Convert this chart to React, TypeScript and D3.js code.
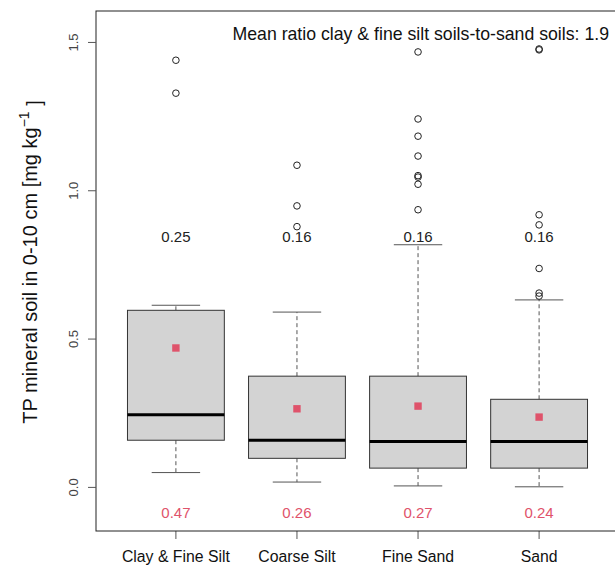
import React, { useEffect } from 'react';
import * as d3 from 'd3';

// soil texture classes
const classes = ['Clay & Fine Silt', 'Coarse Silt', 'Fine Sand', 'Sand'];

// box statistics (mg/kg)
const lowerWhisker = [0.05, 0.018, 0.005, 0.002];
const q1 = [0.159, 0.098, 0.065, 0.065];
const medians = [0.245, 0.159, 0.155, 0.155];
const q3 = [0.597, 0.375, 0.375, 0.297];
const upperWhisker = [0.614, 0.591, 0.818, 0.632];
const means = [0.47, 0.265, 0.274, 0.237];

const outliers = [
  [1.44, 1.329],
  [1.086, 0.949, 0.879],
  [1.468, 1.242, 1.184, 1.117, 1.051, 1.046, 1.022, 0.936],
  [1.478, 1.475, 0.919, 0.885, 0.738, 0.655, 0.645],
];

// labels printed in the plot
const medianLabels = ['0.25', '0.16', '0.16', '0.16'];
const meanLabels = ['0.47', '0.26', '0.27', '0.24'];
const yTicks = [0, 0.5, 1.0, 1.5];
const title = 'Mean ratio clay & fine silt soils-to-sand soils: 1.9';

const W = 615;
const H = 567;
const plot = { left: 96, top: 11, bottom: 531, right: 619 };
const pink = '#DF536B';
const font = 'Liberation Sans, Arial, sans-serif';

const App = () => {
  useEffect(() => {
    document.body.style.margin = '0';
  }, []);

  const x = d3.scaleLinear().domain([0.34, 4.66]).range([plot.left, plot.right]);
  const y = d3.scaleLinear().domain([-0.147, 1.606]).range([plot.bottom, plot.top]);
  const bw = x(1.4) - x(0.6);
  const cap = bw / 2;

  return (
    <svg width={W} height={H} style={{ display: 'block', fontFamily: font }}>
      <rect width={W} height={H} fill="#fff" />

      {classes.map((c, i) => {
        const cx = x(i + 1);
        return (
          <g key={c}>
            {/* whiskers */}
            <line x1={cx} x2={cx} y1={y(q3[i])} y2={y(upperWhisker[i])} stroke="#555" strokeDasharray="4,3" />
            <line x1={cx} x2={cx} y1={y(q1[i])} y2={y(lowerWhisker[i])} stroke="#555" strokeDasharray="4,3" />
            <line x1={cx - cap / 2} x2={cx + cap / 2} y1={y(upperWhisker[i])} y2={y(upperWhisker[i])} stroke="#555" />
            <line x1={cx - cap / 2} x2={cx + cap / 2} y1={y(lowerWhisker[i])} y2={y(lowerWhisker[i])} stroke="#555" />
            <rect
              x={cx - bw / 2}
              y={y(q3[i])}
              width={bw}
              height={y(q1[i]) - y(q3[i])}
              fill="#d3d3d3"
              stroke="#333"
            />
            <line x1={cx - bw / 2} x2={cx + bw / 2} y1={y(medians[i])} y2={y(medians[i])} stroke="#000" strokeWidth={3} />
            {outliers[i].map((v, j) => (
              <circle key={j} cx={cx} cy={y(v)} r={3.3} fill="none" stroke="#222" strokeWidth={1} />
            ))}
            <rect x={cx - 3.7} y={y(means[i]) - 3.7} width={7.4} height={7.4} fill={pink} />
            <text x={cx} y={y(0.845)} dy="0.35em" textAnchor="middle" fontSize={15} fill="#222">
              {medianLabels[i]}
            </text>
            <text x={cx} y={y(-0.087)} dy="0.35em" textAnchor="middle" fontSize={15} fill={pink}>
              {meanLabels[i]}
            </text>
            <line x1={cx} x2={cx} y1={plot.bottom} y2={plot.bottom + 8} stroke="#555" />
            <text x={cx} y={556} dy="0.35em" textAnchor="middle" fontSize={15.8} fill="#111">
              {c}
            </text>
          </g>
        );
      })}

      {/* plot frame */}
      <rect
        x={plot.left}
        y={plot.top}
        width={plot.right - plot.left}
        height={plot.bottom - plot.top}
        fill="none"
        stroke="#222"
      />

      {/* y axis */}
      {yTicks.map(t => (
        <g key={t}>
          <line x1={plot.left - 8} x2={plot.left} y1={y(t)} y2={y(t)} stroke="#555" />
          <text
            transform={`translate(73,${y(t)}) rotate(-90)`}
            dy="0.35em"
            textAnchor="middle"
            fontSize={13}
            fill="#444"
          >
            {t.toFixed(1)}
          </text>
        </g>
      ))}
      <text transform={`translate(30,262) rotate(-90)`} dy="0.35em" textAnchor="middle" fontSize={20} fill="#111">
        TP mineral soil in 0-10 cm [mg kg
        <tspan dy="-0.6em" fontSize={14}>−1</tspan>
        <tspan dy="0.6em"> ]</tspan>
      </text>

      <text x={609} y={34} dy="0.35em" textAnchor="end" fontSize={17.7} fill="#111">
        {title}
      </text>
    </svg>
  );
};

export default App;
